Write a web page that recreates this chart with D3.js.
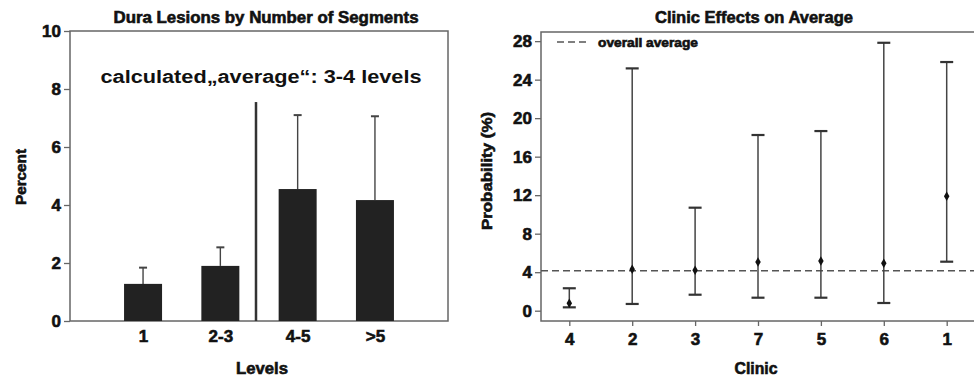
<!DOCTYPE html>
<html>
<head>
<meta charset="utf-8">
<script src="https://cdn.jsdelivr.net/npm/d3@7/dist/d3.min.js"></script>
<style>
  html, body { margin: 0; padding: 0; background: #fff; }
  svg { display: block; }
  text { font-family: "Liberation Sans", Arial, sans-serif; fill: #111; }
  .heavy { stroke: #111; stroke-width: 0.6px; }
</style>
</head>
<body>
<svg id="chart" width="974" height="379"></svg>
<script>
// Left panel: dura lesions by number of segments
const levels = ["1", "2-3", "4-5", ">5"];
const percent = [1.28, 1.9, 4.55, 4.17];
const percentUpper = [1.84, 2.54, 7.1, 7.06];
const percentTicks = [0, 2, 4, 6, 8, 10];
const averageMarker = 7.55;

// Right panel: clinic effects on average
const clinics = ["4", "2", "3", "7", "5", "6", "1"];
const clinicEstimate = [0.77, 4.3, 4.2, 5.06, 5.16, 4.92, 11.88];
const clinicLower = [0.35, 0.7, 1.66, 1.35, 1.35, 0.8, 5.09];
const clinicUpper = [2.33, 25.17, 10.7, 18.25, 18.66, 27.83, 25.83];
const probTicks = [0, 4, 8, 12, 16, 20, 24, 28];
const overallAverage = 4.15;

const svg = d3.select("#chart");
const frameColor = "#666";
const inkColor = "#222";

function styleTicks(g) {
  g.selectAll(".tick text")
    .attr("font-size", 17).attr("font-weight", "bold")
    .attr("fill", "#111").attr("font-family", "Liberation Sans, Arial, sans-serif")
    .attr("class", "heavy");
}

// ---------- left panel ----------
const L = { left: 70, right: 448, top: 31, bottom: 321 };
const xL = d3.scalePoint().domain(levels).range([L.left, L.right]).padding(0.945);
const yL = d3.scaleLinear().domain([0, 10]).range([L.bottom, L.top]);
const gL = svg.append("g");

gL.append("rect")
  .attr("x", L.left).attr("y", L.top)
  .attr("width", L.right - L.left).attr("height", L.bottom - L.top)
  .attr("fill", "none").attr("stroke", frameColor).attr("stroke-width", 1.5);

const barW = 38;
// error whiskers (upper half only)
gL.selectAll("line.err").data(levels).join("line")
  .attr("x1", d => xL(d)).attr("x2", d => xL(d))
  .attr("y1", (d, i) => yL(percent[i])).attr("y2", (d, i) => yL(percentUpper[i]))
  .attr("stroke", "#444").attr("stroke-width", 1.4);
gL.selectAll("line.cap").data(levels).join("line")
  .attr("x1", d => xL(d) - 4).attr("x2", d => xL(d) + 4)
  .attr("y1", (d, i) => yL(percentUpper[i])).attr("y2", (d, i) => yL(percentUpper[i]))
  .attr("stroke", "#444").attr("stroke-width", 2);
gL.selectAll("rect.bar").data(levels).join("rect")
  .attr("x", d => xL(d) - barW / 2).attr("width", barW)
  .attr("y", (d, i) => yL(percent[i]))
  .attr("height", (d, i) => yL(0) - yL(percent[i]))
  .attr("fill", inkColor);

// marker between 2-3 and 4-5 for the calculated average
const markX = (xL("2-3") + xL("4-5")) / 2 - 3;
gL.append("line")
  .attr("x1", markX).attr("x2", markX)
  .attr("y1", yL(averageMarker)).attr("y2", yL(0))
  .attr("stroke", "#333").attr("stroke-width", 2.5);

const axL = d3.axisLeft(yL).tickValues(percentTicks).tickSize(6).tickPadding(3);
gL.append("g").attr("transform", `translate(${L.left},0)`).call(axL)
  .call(g => g.select(".domain").remove())
  .call(g => g.selectAll(".tick line").attr("stroke", frameColor).attr("stroke-width", 1.3))
  .call(styleTicks);

const axLb = d3.axisBottom(xL).tickSize(0).tickPadding(9);
gL.append("g").attr("transform", `translate(0,${L.bottom})`).call(axLb)
  .call(g => g.select(".domain").remove())
  .call(styleTicks);

gL.append("text").attr("class", "heavy").attr("x", 266).attr("y", 23).attr("text-anchor", "middle")
  .attr("font-size", 16).attr("font-weight", "bold")
  .attr("textLength", 305).attr("lengthAdjust", "spacingAndGlyphs")
  .text("Dura Lesions by Number of Segments");
gL.append("text").attr("x", 261).attr("y", 83).attr("text-anchor", "middle")
  .attr("font-size", 18).attr("font-weight", "bold")
  .attr("textLength", 321).attr("lengthAdjust", "spacingAndGlyphs")
  .text("calculated\u201eaverage\u201c: 3-4 levels");
gL.append("text").attr("class", "heavy").attr("x", 262).attr("y", 374).attr("text-anchor", "middle")
  .attr("font-size", 16).attr("font-weight", "bold")
  .attr("textLength", 52).attr("lengthAdjust", "spacingAndGlyphs")
  .text("Levels");
gL.append("text").attr("class", "heavy").attr("transform", "translate(26,177) rotate(-90)")
  .attr("text-anchor", "middle").attr("font-size", 15).attr("font-weight", "bold")
  .attr("textLength", 56).attr("lengthAdjust", "spacingAndGlyphs")
  .text("Percent");

// ---------- right panel ----------
const R = { left: 541, right: 975, top: 32, bottom: 321 };
const xR = d3.scalePoint().domain(clinics).range([R.left, R.right]).padding(0.45);
const yR = d3.scaleLinear().domain([-1.07, 28.95]).range([R.bottom, R.top]);
const gR = svg.append("g");

gR.append("rect")
  .attr("x", R.left).attr("y", R.top)
  .attr("width", R.right - R.left).attr("height", R.bottom - R.top)
  .attr("fill", "none").attr("stroke", frameColor).attr("stroke-width", 1.5);

gR.append("line")
  .attr("x1", R.left).attr("x2", R.right)
  .attr("y1", yR(overallAverage)).attr("y2", yR(overallAverage))
  .attr("stroke", "#555").attr("stroke-width", 1.5).attr("stroke-dasharray", "7,4");

const capW = 13;
gR.selectAll("line.ci").data(clinics).join("line")
  .attr("x1", d => xR(d)).attr("x2", d => xR(d))
  .attr("y1", (d, i) => yR(clinicLower[i])).attr("y2", (d, i) => yR(clinicUpper[i]))
  .attr("stroke", "#444").attr("stroke-width", 1.5);
gR.selectAll("line.capU").data(clinics).join("line")
  .attr("x1", d => xR(d) - capW / 2).attr("x2", d => xR(d) + capW / 2)
  .attr("y1", (d, i) => yR(clinicUpper[i])).attr("y2", (d, i) => yR(clinicUpper[i]))
  .attr("stroke", "#333").attr("stroke-width", 2.2);
gR.selectAll("line.capL").data(clinics).join("line")
  .attr("x1", d => xR(d) - capW / 2).attr("x2", d => xR(d) + capW / 2)
  .attr("y1", (d, i) => yR(clinicLower[i])).attr("y2", (d, i) => yR(clinicLower[i]))
  .attr("stroke", "#333").attr("stroke-width", 2.2);
gR.selectAll("path.pt").data(clinics).join("path")
  .attr("transform", (d, i) => `translate(${xR(d)},${yR(clinicEstimate[i])})`)
  .attr("d", d3.symbol(d3.symbolDiamond, 26))
  .attr("fill", "#111");

const axR = d3.axisLeft(yR).tickValues(probTicks).tickSize(6).tickPadding(3);
gR.append("g").attr("transform", `translate(${R.left},0)`).call(axR)
  .call(g => g.select(".domain").remove())
  .call(g => g.selectAll(".tick line").attr("stroke", frameColor).attr("stroke-width", 1.3))
  .call(styleTicks);

const axRb = d3.axisBottom(xR).tickSize(5).tickPadding(7);
gR.append("g").attr("transform", `translate(0,${R.bottom})`).call(axRb)
  .call(g => g.select(".domain").remove())
  .call(g => g.selectAll(".tick line").attr("stroke", frameColor).attr("stroke-width", 1.3))
  .call(styleTicks);

gR.append("text").attr("class", "heavy").attr("x", 754).attr("y", 23).attr("text-anchor", "middle")
  .attr("font-size", 16).attr("font-weight", "bold")
  .attr("textLength", 198).attr("lengthAdjust", "spacingAndGlyphs")
  .text("Clinic Effects on Average");
gR.append("text").attr("class", "heavy").attr("x", 756).attr("y", 374).attr("text-anchor", "middle")
  .attr("font-size", 16).attr("font-weight", "bold")
  .attr("textLength", 43).attr("lengthAdjust", "spacingAndGlyphs")
  .text("Clinic");
gR.append("text").attr("class", "heavy").attr("transform", "translate(492,171) rotate(-90)")
  .attr("text-anchor", "middle").attr("font-size", 15).attr("font-weight", "bold")
  .attr("textLength", 118).attr("lengthAdjust", "spacingAndGlyphs")
  .text("Probability (%)");

// legend
gR.append("line").attr("x1", 557).attr("x2", 586).attr("y1", 42).attr("y2", 42)
  .attr("stroke", "#555").attr("stroke-width", 1.5).attr("stroke-dasharray", "7,4");
gR.append("text").attr("class", "heavy").attr("x", 598).attr("y", 47)
  .attr("font-size", 12).attr("font-weight", "bold")
  .attr("textLength", 100).attr("lengthAdjust", "spacingAndGlyphs")
  .text("overall average");
</script>
</body>
</html>
